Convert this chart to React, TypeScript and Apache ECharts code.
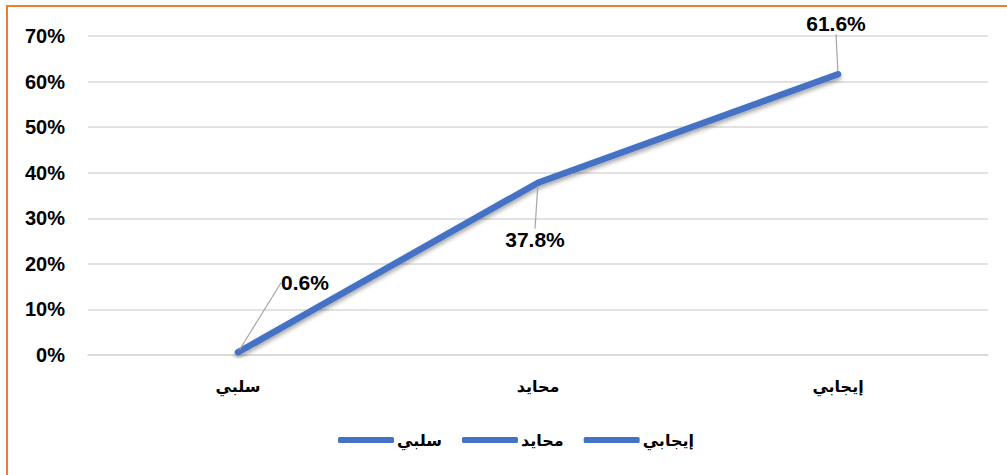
import React, { useEffect, useRef } from "react";
import * as echarts from "echarts";

const categories = ["سلبي", "محايد", "إيجابي"];
const values = [0.6, 37.8, 61.6];
const legendNames = ["سلبي", "محايد", "إيجابي"];
const yTicks = { min: 0, max: 70, interval: 10 };

const BLUE = "#4472C4";
const labelOffsets = [
  { dx: 67, dy: -51 },
  { dx: -3, dy: 38 },
  { dx: -2, dy: -32 },
];
const labelPos = ["top", "bottom", "top"];

export default function App() {
  const ref = useRef<HTMLDivElement>(null);
  useEffect(() => {
    const chart = echarts.init(ref.current!, null, { renderer: "svg" });
    const latin = "'Liberation Sans', Arial, sans-serif";
    const arabic = "'Liberation Sans', 'DejaVu Sans', sans-serif";
    chart.setOption({
      animation: false,
      backgroundColor: "#ffffff",
      graphic: [
        {
          type: "rect",
          shape: { x: 7, y: 6, width: 1100, height: 600 },
          style: { fill: "none", stroke: "#ED7D31", lineWidth: 2 },
          z: 10,
        },
      ],
      grid: { left: 88, right: 19, top: 36, bottom: 120 },
      legend: {
        data: legendNames,
        left: 338,
        top: 432,
        padding: 0,
        icon: "roundRect",
        itemWidth: 56,
        itemHeight: 6,
        itemGap: 20,
        textStyle: { fontFamily: arabic, fontWeight: "bold", fontSize: 16, color: "#000", padding: [0, 0, 0, -2] },
      },
      xAxis: {
        type: "category",
        data: categories,
        boundaryGap: true,
        axisLine: { show: true, lineStyle: { color: "#D9D9D9", width: 1.5 } },
        axisTick: { show: false },
        axisLabel: { margin: 23, fontFamily: arabic, fontWeight: "bold", fontSize: 16, color: "#000" },
      },
      yAxis: {
        type: "value",
        min: yTicks.min,
        max: yTicks.max,
        interval: yTicks.interval,
        axisLine: { show: false },
        axisTick: { show: false },
        splitLine: { lineStyle: { color: "#D9D9D9", width: 1.5 } },
        axisLabel: {
          margin: 23,
          formatter: "{value}%",
          fontFamily: latin,
          fontWeight: "bold",
          fontSize: 20,
          color: "#000",
        },
      },
      series: [
        {
          name: legendNames[0],
          type: "line",
          data: values.map((v, i) => ({
            value: v,
            label: { position: labelPos[i] },
          })),
          symbol: "circle",
          symbolSize: 6,
          itemStyle: { color: BLUE },
          lineStyle: {
            color: BLUE,
            width: 6.5,
            cap: "round",
            join: "round",
            shadowColor: "rgba(0,0,0,0.35)",
            shadowBlur: 4,
            shadowOffsetY: 3,
          },
          label: {
            show: true,
            formatter: (p: any) => p.value.toFixed(1) + "%",
            fontFamily: latin,
            fontWeight: "bold",
            fontSize: 21,
            color: "#000",
          },
          labelLine: { show: true, lineStyle: { color: "#A6A6A6", width: 1.2 } },
          labelLayout: (params: any) => labelOffsets[params.dataIndex],
        },
        {
          name: legendNames[1],
          type: "line",
          data: [],
          itemStyle: { color: BLUE },
          lineStyle: { color: BLUE },
        },
        {
          name: legendNames[2],
          type: "line",
          data: [],
          itemStyle: { color: BLUE },
          lineStyle: { color: BLUE },
        },
      ],
    });
    return () => chart.dispose();
  }, []);
  return (
    <div
      ref={ref}
      style={{ position: "fixed", left: 0, top: 0, width: 1007, height: 475 }}
    />
  );
}
